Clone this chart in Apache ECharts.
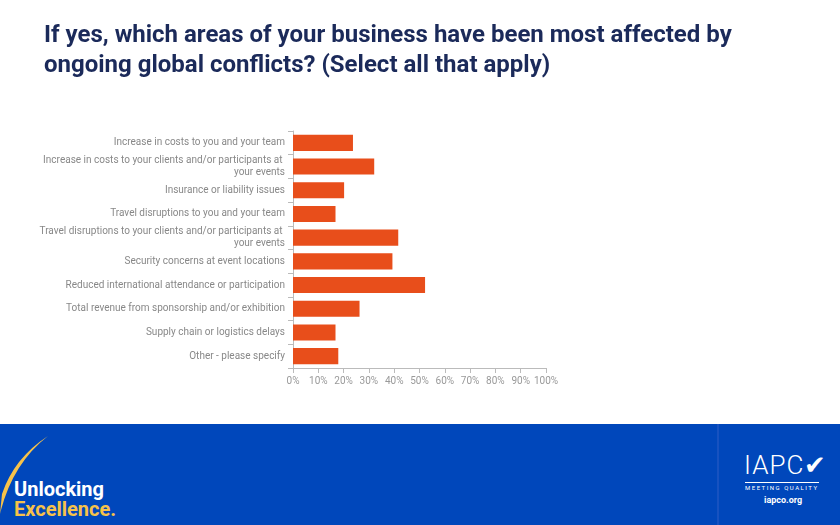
<!DOCTYPE html>
<html><head><meta charset="utf-8">
<script src="https://cdn.jsdelivr.net/npm/echarts@6/dist/echarts.min.js"></script>
<style>
html,body{margin:0;padding:0;background:#fff;font-family:Roboto,"Liberation Sans",sans-serif;}
#c{width:840px;height:424px;}
#foot{position:absolute;left:0;top:424px;width:840px;height:101px;background:#0047BB;overflow:hidden;}
</style></head>
<body>
<div id="c"></div>
<div id="foot">
  <svg width="840" height="101" style="position:absolute;left:0;top:0">
    <path d="M48,12 Q14,34 2,70 L0,90 Q12,40 48,12 Z" fill="#F6C24A"/>
    <line x1="718" y1="0" x2="718" y2="101" stroke="#2f5fc6" stroke-width="1"/>
  </svg>
  <div style="position:absolute;left:14px;top:55px;color:#fff;font:bold 20px Roboto,sans-serif;line-height:21px">Unlocking</div>
  <div style="position:absolute;left:14px;top:75px;color:#F6C24A;font:bold 20px Roboto,sans-serif;line-height:21px">Excellence.</div>
  <div style="position:absolute;left:744px;top:26px;color:#fff;font:300 26px Roboto,sans-serif;letter-spacing:1px">IAPC&#10004;</div>
  <div style="position:absolute;left:745px;top:58px;color:#fff;font:6px Roboto,sans-serif;letter-spacing:1.5px;border-top:1px solid #fff;padding-top:1px">MEETING QUALITY</div>
  <div style="position:absolute;left:764px;top:71px;color:#fff;font:bold 9px Roboto,sans-serif">iapco.org</div>
</div>
<script>
const categories = [
  "Increase in costs to you and your team",
  "Increase in costs to your clients and/or participants at your events",
  "Insurance or liability issues",
  "Travel disruptions to you and your team",
  "Travel disruptions to your clients and/or participants at your events",
  "Security concerns at event locations",
  "Reduced international attendance or participation",
  "Total revenue from sponsorship and/or exhibition",
  "Supply chain or logistics delays",
  "Other - please specify"
];
const values = [23.7, 32.1, 20.2, 16.8, 41.6, 39.3, 52.2, 26.3, 16.8, 17.9];
const chart = echarts.init(document.getElementById('c'));
chart.setOption({
  animation:false,
  title:{text:"If yes, which areas of your business have been most affected by\nongoing global conflicts? (Select all that apply)",
    left:39, top:16, textStyle:{fontFamily:"Roboto",fontWeight:'bold',fontSize:24,color:'#1B2A5A',lineHeight:30}},
  grid:{left:293,right:294,top:131,bottom:56},
  xAxis:{type:'value',min:0,max:100,interval:10,
    axisLabel:{formatter:'{value}%',color:'#999',fontSize:10,fontFamily:'Roboto'},
    splitLine:{show:false},axisLine:{show:true,lineStyle:{color:'#bbb'}},axisTick:{show:true,lineStyle:{color:'#bbb'}}},
  yAxis:{type:'category',inverse:true,data:categories,
    axisLine:{lineStyle:{color:'#bbb'}},axisTick:{show:true,lineStyle:{color:'#bbb'}},
    axisLabel:{color:'#888',fontSize:10,fontFamily:'Roboto',width:252,overflow:'break',align:'right',lineHeight:12,margin:8}},
  series:[{type:'bar',data:values,barWidth:'68%',itemStyle:{color:'#E84E1B'}}]
});
</script>
</body></html>
